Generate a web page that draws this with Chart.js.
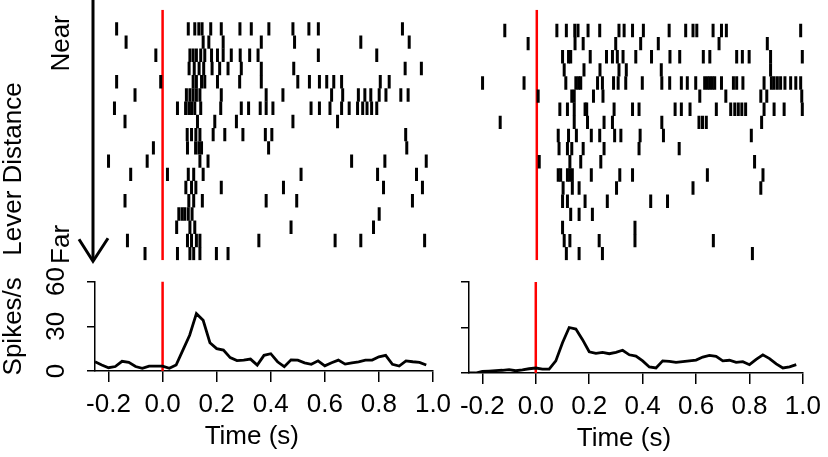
<!DOCTYPE html>
<html>
<head>
<meta charset="utf-8">
<script src="https://cdn.jsdelivr.net/npm/chart.js@4.4.1/dist/chart.umd.min.js"></script>
<style>
  html, body { margin: 0; padding: 0; background: #fff; }
  #wrap { position: relative; width: 828px; height: 457px; overflow: hidden; }
  .box { position: absolute; }
</style>
</head>
<body>
<div id="wrap">
  <div class="box" style="left:0;top:0;width:460px;height:270px"><canvas id="rasterLeft"></canvas></div>
  <div class="box" style="left:440px;top:0;width:388px;height:270px"><canvas id="rasterRight"></canvas></div>
  <div class="box" style="left:0;top:250px;width:460px;height:207px"><canvas id="psthLeft"></canvas></div>
  <div class="box" style="left:440px;top:250px;width:388px;height:207px"><canvas id="psthRight"></canvas></div>
</div>
<script>
// spike times (s) per trial, first trial = near lever
const spikesLeft = [
  [-0.170, 0.095, 0.119, 0.134, 0.146, 0.178, 0.217, 0.286, 0.328, 0.393, 0.482, 0.541, 0.576, 0.887],
  [-0.135, 0.150, 0.171, 0.224, 0.365, 0.488, 0.733, 0.912],
  [-0.025, 0.101, 0.113, 0.125, 0.141, 0.156, 0.181, 0.203, 0.224, 0.254, 0.287, 0.322, 0.353, 0.576, 0.792],
  [0.098, 0.117, 0.135, 0.152, 0.183, 0.211, 0.242, 0.291, 0.365, 0.485, 0.897, 0.957],
  [-0.170, -0.007, 0.113, 0.125, 0.144, 0.156, 0.203, 0.285, 0.365, 0.500, 0.543, 0.580, 0.607, 0.633, 0.662, 0.805, 0.838],
  [-0.102, 0.088, 0.101, 0.113, 0.125, 0.138, 0.217, 0.383, 0.445, 0.625, 0.666, 0.724, 0.748, 0.770, 0.801, 0.826, 0.881, 0.908],
  [-0.178, 0.055, 0.085, 0.097, 0.107, 0.119, 0.141, 0.215, 0.291, 0.318, 0.361, 0.383, 0.408, 0.549, 0.580, 0.619, 0.662, 0.690, 0.721, 0.740, 0.756, 0.773, 0.792],
  [-0.139, 0.129, 0.193, 0.273, 0.482, 0.647],
  [0.091, 0.107, 0.123, 0.138, 0.187, 0.230, 0.297, 0.380, 0.404, 0.899],
  [-0.034, 0.092, 0.122, 0.134, 0.144, 0.392, 0.903],
  [-0.200, -0.057, 0.138, 0.168, 0.699, 0.822, 0.975],
  [-0.118, 0.018, 0.095, 0.115, 0.150, 0.512, 0.795, 0.939],
  [0.086, 0.107, 0.123, 0.217, 0.447, 0.817, 0.961],
  [-0.139, 0.097, 0.115, 0.147, 0.383, 0.496, 0.924],
  [0.060, 0.072, 0.082, 0.095, 0.109, 0.801],
  [0.052, 0.101, 0.119, 0.475, 0.780],
  [-0.130, 0.092, 0.107, 0.125, 0.138, 0.356, 0.638, 0.733, 0.969],
  [-0.065, 0.055, 0.101, 0.115, 0.138, 0.199, 0.242]
];

const spikesRight = [
  [-0.118, 0.074, 0.109, 0.140, 0.152, 0.189, 0.232, 0.303, 0.322, 0.353, 0.393, 0.488, 0.549, 0.576, 0.590, 0.650, 0.681, 0.699, 0.973],
  [-0.032, 0.141, 0.171, 0.291, 0.383, 0.448, 0.672, 0.850],
  [0.095, 0.117, 0.125, 0.197, 0.257, 0.279, 0.297, 0.318, 0.365, 0.423, 0.491, 0.527, 0.614, 0.638, 0.737, 0.758, 0.783, 0.862, 0.979],
  [0.101, 0.174, 0.233, 0.303, 0.330, 0.459, 0.862],
  [-0.200, -0.047, 0.107, 0.144, 0.154, 0.162, 0.224, 0.242, 0.283, 0.300, 0.328, 0.389, 0.461, 0.490, 0.533, 0.555, 0.586, 0.619, 0.629, 0.638, 0.647, 0.656, 0.681, 0.725, 0.737, 0.760, 0.838, 0.865, 0.875, 0.887, 0.899, 0.915, 0.936, 0.955, 0.973],
  [0.005, 0.129, 0.138, 0.209, 0.244, 0.601, 0.697, 0.826, 0.848, 0.977],
  [0.085, 0.113, 0.138, 0.178, 0.184, 0.285, 0.353, 0.377, 0.510, 0.533, 0.565, 0.662, 0.715, 0.730, 0.743, 0.756, 0.770, 0.838, 0.875, 0.912, 0.979],
  [-0.135, 0.138, 0.187, 0.248, 0.279, 0.461, 0.598, 0.611, 0.625, 0.829],
  [0.079, 0.117, 0.146, 0.201, 0.232, 0.287, 0.310, 0.381, 0.467, 0.791],
  [0.082, 0.113, 0.129, 0.171, 0.248, 0.377, 0.525],
  [0.009, 0.122, 0.162, 0.236, 0.803],
  [0.079, 0.088, 0.113, 0.122, 0.131, 0.201, 0.306, 0.353, 0.629, 0.834],
  [0.097, 0.131, 0.156, 0.294, 0.576, 0.826],
  [0.095, 0.113, 0.178, 0.260, 0.420, 0.482],
  [0.125, 0.156, 0.205],
  [0.095, 0.362],
  [0.101, 0.122, 0.230, 0.362, 0.651],
  [0.109, 0.156, 0.242, 0.795]
];

// PSTH bins (s) and firing rates (spikes/s)
const psthTime = [
  -0.250, -0.225, -0.200, -0.175, -0.150, -0.125, -0.100, -0.075, -0.050, -0.025,
  0.000, 0.025, 0.050, 0.075, 0.100, 0.125, 0.150, 0.175, 0.200, 0.225,
  0.250, 0.275, 0.300, 0.325, 0.350, 0.375, 0.400, 0.425, 0.450, 0.475,
  0.500, 0.525, 0.550, 0.575, 0.600, 0.625, 0.650, 0.675, 0.700, 0.725,
  0.750, 0.775, 0.800, 0.825, 0.850, 0.875, 0.900, 0.925, 0.950, 0.975
];
const psthLeft = [
  6.2, 4.0, 2.2, 3.0, 6.5, 5.8, 3.0, 1.8, 3.3, 3.3,
  3.3, 1.8, 4.0, 14.0, 24.0, 38.5, 34.0, 19.0, 15.0, 14.0,
  9.0, 7.0, 7.3, 8.0, 4.0, 10.5, 11.6, 6.2, 2.9, 7.5,
  7.3, 5.5, 4.5, 6.8, 3.5, 5.5, 7.3, 4.6, 5.5, 6.2,
  7.3, 7.3, 9.5, 10.5, 4.5, 3.3, 6.8, 6.2, 5.8, 4.0
];
const psthRight = [
  0.0, 0.0, 1.0, 1.3, 1.6, 1.8, 2.2, 1.5, 2.0, 2.8,
  3.3, 2.6, 2.6, 8.0, 20.0, 30.0, 29.0, 22.0, 14.0, 13.0,
  13.6, 12.7, 13.6, 15.0, 12.0, 11.2, 8.0, 4.0, 3.3, 8.0,
  7.7, 7.0, 7.5, 8.0, 8.5, 10.5, 11.6, 11.0, 8.0, 8.4,
  7.0, 7.5, 5.5, 9.0, 12.0, 9.5, 6.0, 3.3, 4.0, 5.5
];

const timeTicks = [-0.2, 0.0, 0.2, 0.4, 0.6, 0.8, 1.0];
const rateTicks = [0, 30, 60];
const trialLabels = ["Near", "Far"];

const FONT = "'Liberation Sans', Arial, Helvetica, sans-serif";
Chart.defaults.font.family = FONT;
Chart.defaults.font.size = 26;
Chart.defaults.color = "#000";

function rasterPoints(trials) {
  const pts = [];
  trials.forEach((row, i) => row.forEach((t) => pts.push({ x: t, y: i + 1 })));
  return pts;
}

function vText(ctx, text, x, y) {
  ctx.save();
  ctx.translate(x, y);
  ctx.rotate(-Math.PI / 2);
  ctx.fillText(text, 0, 0);
  ctx.restore();
}

// arrow + "Lever Distance" / Near / Far on the left raster
const leverAxis = {
  id: "leverAxis",
  afterDraw(chart) {
    const { ctx, chartArea } = chart;
    const y = chart.scales.y;
    const ax = chartArea.left - 2;
    const tipY = chartArea.bottom + 1;
    ctx.save();
    ctx.strokeStyle = "#000";
    ctx.lineWidth = 3;
    ctx.beginPath();
    ctx.moveTo(ax, 0);
    ctx.lineTo(ax, tipY - 2);
    ctx.stroke();
    ctx.beginPath();
    ctx.moveTo(ax - 14, tipY - 22);
    ctx.lineTo(ax, tipY);
    ctx.lineTo(ax + 15, tipY - 23);
    ctx.stroke();
    ctx.fillStyle = "#000";
    ctx.font = "26px " + FONT;
    ctx.textAlign = "center";
    ctx.textBaseline = "middle";
    vText(ctx, "Lever Distance", 14, 169);
    vText(ctx, trialLabels[0], 62, y.getPixelForValue(2.1));
    vText(ctx, trialLabels[1], 62, y.getPixelForValue(17.3));
    ctx.restore();
  }
};

// R-style x title, sitting a bit left of the axis middle
const timeTitle = {
  id: "timeTitle",
  afterDraw(chart) {
    const { ctx, chartArea } = chart;
    ctx.save();
    ctx.fillStyle = "#000";
    ctx.font = "26px " + FONT;
    ctx.textAlign = "center";
    ctx.textBaseline = "middle";
    ctx.fillText("Time (s)", chart.scales.x.getPixelForValue(0.33), chartArea.bottom + 66);
    ctx.restore();
  }
};

function makeRaster(id, trials, yMin, pad, plugins) {
  return new Chart(document.getElementById(id), {
    type: "scatter",
    data: {
      datasets: [
        {
          data: rasterPoints(trials),
          pointStyle: "line",
          pointRotation: 90,
          pointRadius: 6.7,
          pointBorderWidth: 3,
          pointBorderColor: "#000",
          pointBackgroundColor: "#000"
        },
        {
          type: "line",
          data: [{ x: 0, y: yMin }, { x: 0, y: trials.length + 0.5 }],
          borderColor: "#ff0000",
          borderWidth: 2.5,
          pointRadius: 0
        }
      ]
    },
    options: {
      responsive: true,
      maintainAspectRatio: false,
      animation: false,
      events: [],
      layout: { padding: pad },
      plugins: { legend: { display: false }, tooltip: { enabled: false } },
      scales: {
        x: { type: "linear", min: -0.25, max: 1.0, display: false },
        y: { type: "linear", min: yMin, max: trials.length + 0.5, reverse: true, display: false }
      }
    },
    plugins: plugins || []
  });
}

function makePsth(id, rates, yWidth, xHeight, pad, showY) {
  return new Chart(document.getElementById(id), {
    type: "line",
    data: {
      datasets: [
        {
          data: psthTime.map((t, i) => ({ x: t, y: rates[i] })),
          borderColor: "#000",
          borderWidth: 2.8,
          pointRadius: 0,
          tension: 0
        },
        {
          data: [{ x: 0, y: 0 }, { x: 0, y: 60 }],
          borderColor: "#ff0000",
          borderWidth: 2.5,
          pointRadius: 0
        }
      ]
    },
    options: {
      responsive: true,
      maintainAspectRatio: false,
      animation: false,
      events: [],
      layout: { padding: pad },
      plugins: { legend: { display: false }, tooltip: { enabled: false } },
      scales: {
        x: {
          type: "linear",
          min: -0.25,
          max: 1.0,
          afterBuildTicks: (s) => { s.ticks = timeTicks.map((v) => ({ value: v })); },
          afterFit: (s) => { s.height = xHeight; },
          grid: { drawOnChartArea: false, drawTicks: true, tickLength: 11, color: "#000", lineWidth: 1.5 },
          border: { display: true, color: "#000", width: 1.5 },
          ticks: { autoSkip: false, maxRotation: 0, padding: 7, callback: (v) => v.toFixed(1) }
        },
        y: {
          type: "linear",
          min: 0,
          max: 60,
          afterBuildTicks: (s) => { s.ticks = rateTicks.map((v) => ({ value: v })); },
          afterFit: (s) => { s.width = yWidth; },
          grid: { drawOnChartArea: false, drawTicks: true, tickLength: 8, color: "#000", lineWidth: 1.5 },
          border: { display: true, color: "#000", width: 1.5 },
          ticks: { display: showY, minRotation: 90, maxRotation: 90, crossAlign: "center", padding: 16 },
          title: { display: showY, text: "Spikes/s", padding: 0, font: { lineHeight: 1.05 } }
        }
      }
    },
    plugins: [timeTitle]
  });
}

makeRaster("rasterLeft", spikesLeft, -0.45, { left: 95, right: 27, top: 0, bottom: 8 }, [leverAxis]);
makeRaster("rasterRight", spikesRight, -0.58, { left: 29, right: 20, top: 0, bottom: 5 });
makePsth("psthLeft", psthLeft, 95, 86, { left: 0, right: 27, top: 30, bottom: 0 }, true);
makePsth("psthRight", psthRight, 29, 84, { left: 0, right: 20, top: 32, bottom: 0 }, false);
</script>
</body>
</html>
